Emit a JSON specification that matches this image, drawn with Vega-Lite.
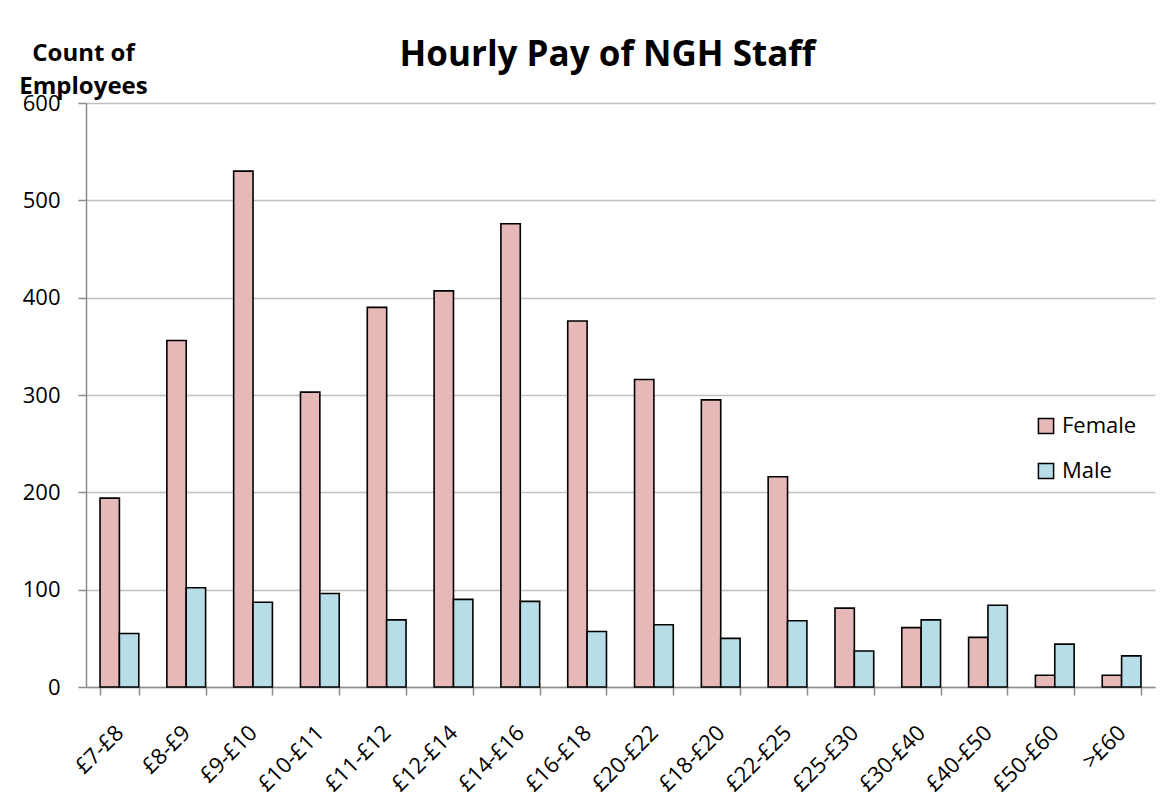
{
  "$schema": "https://vega.github.io/schema/vega-lite/v6.json",
  "width": 1069,
  "height": 584,
  "autosize": {"type": "none"},
  "padding": {"left": 86, "top": 103, "right": 10, "bottom": 120},
  "background": "white",
  "title": {
    "text": "Hourly Pay of NGH Staff",
    "font": "Open Sans",
    "fontSize": 35,
    "fontWeight": "bold",
    "color": "black",
    "anchor": "middle",
    "frame": "group",
    "baseline": "alphabetic",
    "dx": -13,
    "offset": 0,
    "dy": 60
  },
  "data": {
    "values": [
      {"band": "£7-£8", "sex": "Female", "count": 194},
      {"band": "£7-£8", "sex": "Male", "count": 55},
      {"band": "£8-£9", "sex": "Female", "count": 356},
      {"band": "£8-£9", "sex": "Male", "count": 102},
      {"band": "£9-£10", "sex": "Female", "count": 530},
      {"band": "£9-£10", "sex": "Male", "count": 87},
      {"band": "£10-£11", "sex": "Female", "count": 303},
      {"band": "£10-£11", "sex": "Male", "count": 96},
      {"band": "£11-£12", "sex": "Female", "count": 390},
      {"band": "£11-£12", "sex": "Male", "count": 69},
      {"band": "£12-£14", "sex": "Female", "count": 407},
      {"band": "£12-£14", "sex": "Male", "count": 90},
      {"band": "£14-£16", "sex": "Female", "count": 476},
      {"band": "£14-£16", "sex": "Male", "count": 88},
      {"band": "£16-£18", "sex": "Female", "count": 376},
      {"band": "£16-£18", "sex": "Male", "count": 57},
      {"band": "£20-£22", "sex": "Female", "count": 316},
      {"band": "£20-£22", "sex": "Male", "count": 64},
      {"band": "£18-£20", "sex": "Female", "count": 295},
      {"band": "£18-£20", "sex": "Male", "count": 50},
      {"band": "£22-£25", "sex": "Female", "count": 216},
      {"band": "£22-£25", "sex": "Male", "count": 68},
      {"band": "£25-£30", "sex": "Female", "count": 81},
      {"band": "£25-£30", "sex": "Male", "count": 37},
      {"band": "£30-£40", "sex": "Female", "count": 61},
      {"band": "£30-£40", "sex": "Male", "count": 69},
      {"band": "£40-£50", "sex": "Female", "count": 51},
      {"band": "£40-£50", "sex": "Male", "count": 84},
      {"band": "£50-£60", "sex": "Female", "count": 12},
      {"band": "£50-£60", "sex": "Male", "count": 44},
      {"band": ">£60", "sex": "Female", "count": 12},
      {"band": ">£60", "sex": "Male", "count": 32}
    ]
  },
  "mark": {"type": "bar", "stroke": "black", "strokeWidth": 1.6},
  "encoding": {
    "x": {
      "field": "band",
      "type": "nominal",
      "sort": null,
      "scale": {"paddingInner": 0.42, "paddingOuter": 0.21},
      "axis": {
        "title": null,
        "labelAngle": -45,
        "labelAlign": "right",
        "labelBaseline": "middle",
        "labelFont": "Open Sans",
        "labelFontSize": 22,
        "labelColor": "black",
        "labelPadding": 34,
        "tickBand": "extent",
        "tickSize": 8,
        "tickColor": "#8c8c8c",
        "domainColor": "#8c8c8c",
        "domainWidth": 1.5,
        "tickWidth": 1.5,
        "grid": false
      }
    },
    "xOffset": {"field": "sex", "type": "nominal", "sort": ["Female", "Male"], "scale": {"paddingInner": 0, "paddingOuter": 0}},
    "y": {
      "field": "count",
      "type": "quantitative",
      "scale": {"domain": [0, 600], "nice": false},
      "axis": {
        "title": ["Count of", "Employees"],
        "titleAngle": 0,
        "titleFont": "Open Sans",
        "titleFontSize": 24,
        "titleFontWeight": "bold",
        "titleColor": "black",
        "titleAlign": "center",
        "titleBaseline": "alphabetic",
        "titleX": -3,
        "titleY": -43,
        "titleLineHeight": 33,
        "values": [0, 100, 200, 300, 400, 500, 600],
        "labelFont": "Open Sans",
        "labelFontSize": 22,
        "labelColor": "black",
        "labelPadding": 18,
        "tickSize": 8,
        "tickColor": "#8c8c8c",
        "tickWidth": 1.5,
        "domainColor": "#8c8c8c",
        "domainWidth": 1.5,
        "gridColor": "#c0c0c0",
        "gridWidth": 1.5
      }
    },
    "fill": {
      "field": "sex",
      "type": "nominal",
      "scale": {"domain": ["Female", "Male"], "range": ["#e6b8b7", "#b7dee8"]},
      "legend": {
        "title": null,
        "orient": "none",
        "legendX": 949,
        "legendY": 312,
        "symbolType": "square",
        "symbolSize": 230,
        "symbolStrokeColor": "black",
        "symbolStrokeWidth": 1.5,
        "labelFont": "Open Sans",
        "labelFontSize": 22,
        "labelColor": "black",
        "rowPadding": 23,
        "labelOffset": 5
      }
    }
  },
  "config": {
    "view": {"stroke": null}
  }
}
